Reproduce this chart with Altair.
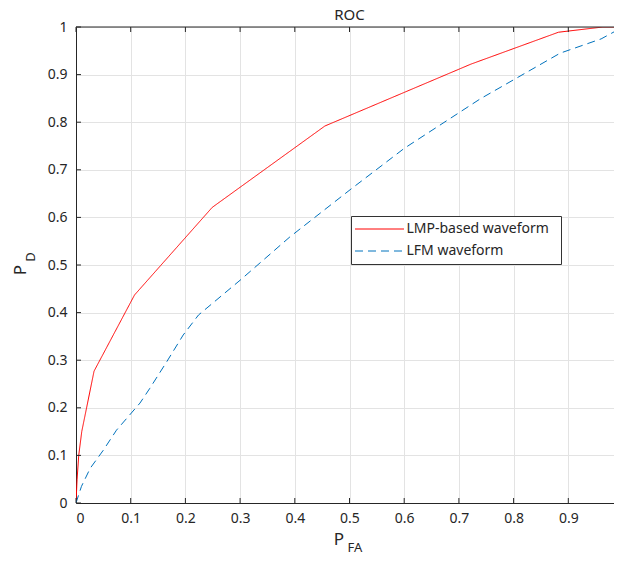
import altair as alt
import pandas as pd

series = ["LMP-based waveform", "LFM waveform"]
lmp_pfa = [0, 0.002, 0.005, 0.0105, 0.033, 0.107, 0.249, 0.455, 0.722, 0.882, 0.963, 1.0]
lmp_pd = [0, 0.05, 0.10, 0.15, 0.277, 0.437, 0.621, 0.792, 0.922, 0.989, 1.0, 1.0]
lfm_pfa = [0, 0.01, 0.026, 0.05, 0.074, 0.117, 0.135, 0.166, 0.196, 0.224, 0.3, 0.391,
           0.501, 0.6, 0.739, 0.885, 0.96, 1.0]
lfm_pd = [0, 0.035, 0.073, 0.111, 0.153, 0.21, 0.241, 0.297, 0.353, 0.395, 0.468, 0.559,
          0.658, 0.745, 0.849, 0.945, 0.975, 1.0]
x_ticks = [0, 0.1, 0.2, 0.3, 0.4, 0.5, 0.6, 0.7, 0.8, 0.9]
y_ticks = [0, 0.1, 0.2, 0.3, 0.4, 0.5, 0.6, 0.7, 0.8, 0.9, 1.0]

PX_PER_UNIT = 547          # reference: x = 0 .. 1 spans 547 px (right edge cropped by the image)
W, H = 538, 476
XMAX = W / PX_PER_UNIT
AX = "#262626"
FONT = "Noto Sans"

rows = []
for i, (x, y) in enumerate(zip(lmp_pfa, lmp_pd)):
    rows.append({"series": series[0], "pfa": x, "pd": y, "idx": i})
for i, (x, y) in enumerate(zip(lfm_pfa, lfm_pd)):
    rows.append({"series": series[1], "pfa": x, "pd": y, "idx": i})
df = pd.DataFrame(rows)

xs = alt.Scale(domain=[0, XMAX], nice=False)
ys = alt.Scale(domain=[0, 1], nice=False)

legend = alt.Legend(title=" ", titleOrient="right", titlePadding=6, titleFontSize=14,
                    orient="none", legendX=275, legendY=189,
                    symbolType="M-4,0H4", symbolSize=150, symbolStrokeWidth=1,
                    symbolOffset=15.5, labelOffset=20,
                    labelFont=FONT, labelFontSize=14, labelColor=AX,
                    strokeColor="#333333", fillColor="white", padding=6,
                    rowPadding=8)

lines = alt.Chart(df).mark_line(strokeWidth=1, clip=True).encode(
    x=alt.X("pfa:Q", scale=xs, axis=alt.Axis(values=x_ticks, format=".1~f", title=None,
            grid=True, gridColor="#e3e3e3", tickSize=0, labelPadding=8,
            domainColor=AX, labelColor=AX, labelFont=FONT, labelFontSize=14)),
    y=alt.Y("pd:Q", scale=ys, axis=alt.Axis(values=y_ticks, format=".1~f", title=None,
            grid=True, gridColor="#e3e3e3", tickSize=0, labelPadding=9,
            domainColor=AX, labelColor=AX, labelFont=FONT, labelFontSize=14)),
    color=alt.Color("series:N", scale=alt.Scale(domain=series, range=["#ff0000", "#0072bd"]),
                    legend=legend),
    strokeDash=alt.StrokeDash("series:N", scale=alt.Scale(domain=series, range=[[1, 0], [8, 5]]),
                              legend=legend),
    order="idx:Q",
)

xt = pd.DataFrame({"t": x_ticks})
yt = pd.DataFrame({"t": y_ticks})
one = pd.DataFrame({"t": [""]})
bot_ticks = alt.Chart(xt).mark_rule(color=AX, strokeWidth=1).encode(
    x=alt.X("t:Q", scale=xs), y=alt.value(H), y2=alt.value(H - 5))
top_ticks = alt.Chart(xt).mark_rule(color=AX, strokeWidth=1).encode(
    x=alt.X("t:Q", scale=xs), y=alt.value(0), y2=alt.value(5))
left_ticks = alt.Chart(yt).mark_rule(color=AX, strokeWidth=1).encode(
    y=alt.Y("t:Q", scale=ys), x=alt.value(0), x2=alt.value(5))
top_line = alt.Chart(one).mark_rule(color=AX, strokeWidth=1).encode(
    x=alt.value(0), x2=alt.value(W), y=alt.value(0))

main_txt = pd.DataFrame({"t": ["P"]})
sub_txt = pd.DataFrame({"t": ["FA"]})
suby_txt = pd.DataFrame({"t": ["D"]})
xlab = alt.Chart(main_txt).mark_text(font=FONT, fontSize=17, color=AX, baseline="middle").encode(
    text="t:N", x=alt.value(263), y=alt.value(513))
xsub = alt.Chart(sub_txt).mark_text(font=FONT, fontSize=13, color=AX, baseline="middle").encode(
    text="t:N", x=alt.value(279), y=alt.value(521))
ylab = alt.Chart(main_txt).mark_text(font=FONT, fontSize=17, color=AX, baseline="middle", angle=270).encode(
    text="t:N", x=alt.value(-55), y=alt.value(243))
ysub = alt.Chart(suby_txt).mark_text(font=FONT, fontSize=13, color=AX, baseline="middle", angle=270).encode(
    text="t:N", x=alt.value(-45), y=alt.value(230))
title = alt.Chart(pd.DataFrame({"t": ["ROC"]})).mark_text(font=FONT, fontSize=15, color=AX,
                                                          baseline="alphabetic").encode(
    text="t:N", x=alt.value(PX_PER_UNIT / 2), y=alt.value(-7))

chart = alt.layer(lines, bot_ticks, top_ticks, left_ticks, top_line,
                  xlab, xsub, ylab, ysub, title).properties(
    width=W, height=H,
    autosize=alt.AutoSizeParams(type="none"),
    padding={"left": 68, "top": 19, "right": 0, "bottom": 54},
).configure_view(stroke=None).configure(background="white")

chart.save("out.html", embed_options={"renderer": "svg", "actions": False})
